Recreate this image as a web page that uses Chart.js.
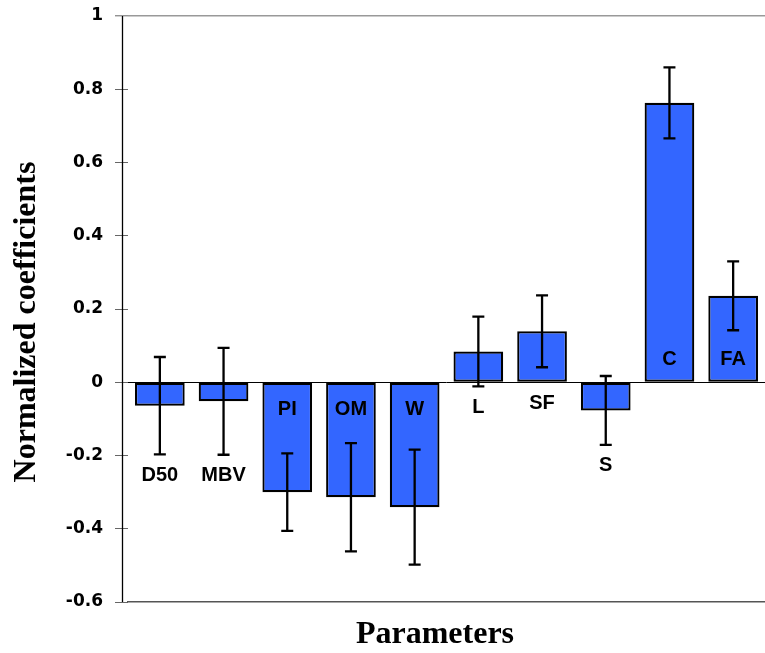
<!DOCTYPE html>
<html>
<head>
<meta charset="utf-8">
<script src="https://cdn.jsdelivr.net/npm/chart.js@4.4.1/dist/chart.umd.min.js"></script>
<style>
  html, body { margin: 0; padding: 0; background: #fff; }
  #wrap { width: 765px; height: 653px; position: relative; }
</style>
</head>
<body>
<div id="wrap"><canvas id="js--chart"></canvas></div>
<script>
const categories = ["D50", "MBV", "PI", "OM", "W", "L", "SF", "S", "C", "FA"];
const coefficients = [-0.064, -0.052, -0.300, -0.314, -0.341, 0.084, 0.139, -0.077, 0.763, 0.236];
const errors = [0.133, 0.146, 0.106, 0.148, 0.157, 0.095, 0.098, 0.094, 0.097, 0.094];
const yMin = -0.6;
const yMax = 1;
const yStep = 0.2;

const xTitle = "Parameters";
const yTitle = "Normalized coefficients";

function isVal(v, t) {
    return Math.abs(v - t) < 1e-9;
}

// error bars, bar names, axis line and the two axis titles
const extras = {
    id: 'extras',
    afterDatasetsDraw(chart) {
        const ctx = chart.ctx;
        const y = chart.scales.y;
        const bars = chart.getDatasetMeta(0).data;
        const zero = y.getPixelForValue(0);

        ctx.save();
        ctx.strokeStyle = '#000';
        ctx.lineWidth = 2.3;
        bars.forEach((bar, i) => {
            const hi = y.getPixelForValue(coefficients[i] + errors[i]);
            const lo = y.getPixelForValue(coefficients[i] - errors[i]);
            ctx.beginPath();
            ctx.moveTo(bar.x, hi);
            ctx.lineTo(bar.x, lo);
            ctx.moveTo(bar.x - 6, hi);
            ctx.lineTo(bar.x + 6, hi);
            ctx.moveTo(bar.x - 6, lo);
            ctx.lineTo(bar.x + 6, lo);
            ctx.stroke();
        });

        ctx.fillStyle = '#000';
        ctx.font = 'bold 20px "Liberation Sans", Arial, sans-serif';
        ctx.textAlign = 'center';
        ctx.textBaseline = 'middle';
        bars.forEach((bar, i) => {
            const v = coefficients[i];
            let ty;
            if (Math.abs(bar.y - zero) > 70) {
                ty = v < 0 ? zero + 26 : zero - 24;
            } else {
                const lo = y.getPixelForValue(v - errors[i]);
                ty = Math.max(zero, lo) + 20;
            }
            ctx.fillText(categories[i], bar.x, ty + 1);
        });
        ctx.restore();
    },
    afterDraw(chart) {
        const ctx = chart.ctx;
        const area = chart.chartArea;

        ctx.save();
        ctx.strokeStyle = '#000';
        ctx.lineWidth = 1.3;
        ctx.beginPath();
        ctx.moveTo(area.left - 5.5, area.top);
        ctx.lineTo(area.left - 5.5, area.bottom);
        ctx.stroke();

        ctx.fillStyle = '#000';
        ctx.font = 'bold 32px "Liberation Serif", "Times New Roman", serif';
        ctx.textAlign = 'center';
        ctx.textBaseline = 'alphabetic';
        ctx.fillText(xTitle, 435, chart.height - 10);

        ctx.translate(35, 322);
        ctx.rotate(-Math.PI / 2);
        ctx.fillText(yTitle, 0, 0);
        ctx.restore();
    }
};

const data1 = {
    labels: categories,
    datasets: [{
        label: 'Normalized coefficients',
        data: coefficients,
        backgroundColor: '#3366FF',
        borderColor: '#000',
        borderWidth: 2.2,
        borderSkipped: false,
        barPercentage: 0.78,
        categoryPercentage: 1
    }]
};

const config1 = {
    type: 'bar',
    data: data1,
    options: {
        responsive: true,
        maintainAspectRatio: false,
        animation: false,
        layout: { padding: { top: 16, left: 0, right: 0, bottom: 0 } },
        plugins: {
            legend: { display: false },
            tooltip: { enabled: false }
        },
        scales: {
            x: {
                ticks: { display: false },
                grid: { display: false },
                border: { display: true, color: '#555', width: 1.5 },
                afterFit: s => { s.height = 51; }
            },
            y: {
                min: yMin,
                max: yMax,
                ticks: {
                    stepSize: yStep,
                    color: '#000',
                    padding: 12,
                    font: { family: '"DejaVu Sans", Verdana, sans-serif', weight: 'bold', size: 17 },
                    callback: v => String(Math.round(v * 10) / 10)
                },
                grid: {
                    color: c => isVal(c.tick.value, 0) ? '#000' : (isVal(c.tick.value, yMax) ? '#999' : 'rgba(0,0,0,0)'),
                    lineWidth: c => isVal(c.tick.value, yMax) ? 1.6 : 1,
                    tickColor: '#666',
                    tickWidth: 1,
                    tickLength: 13
                },
                border: { display: false },
                afterFit: s => {
                    s.width = 128;
                    s.paddingTop = 0;
                    s.paddingBottom = 0;
                }
            }
        }
    },
    plugins: [extras]
};

new Chart(document.getElementById("js--chart"), config1);
</script>
</body>
</html>
